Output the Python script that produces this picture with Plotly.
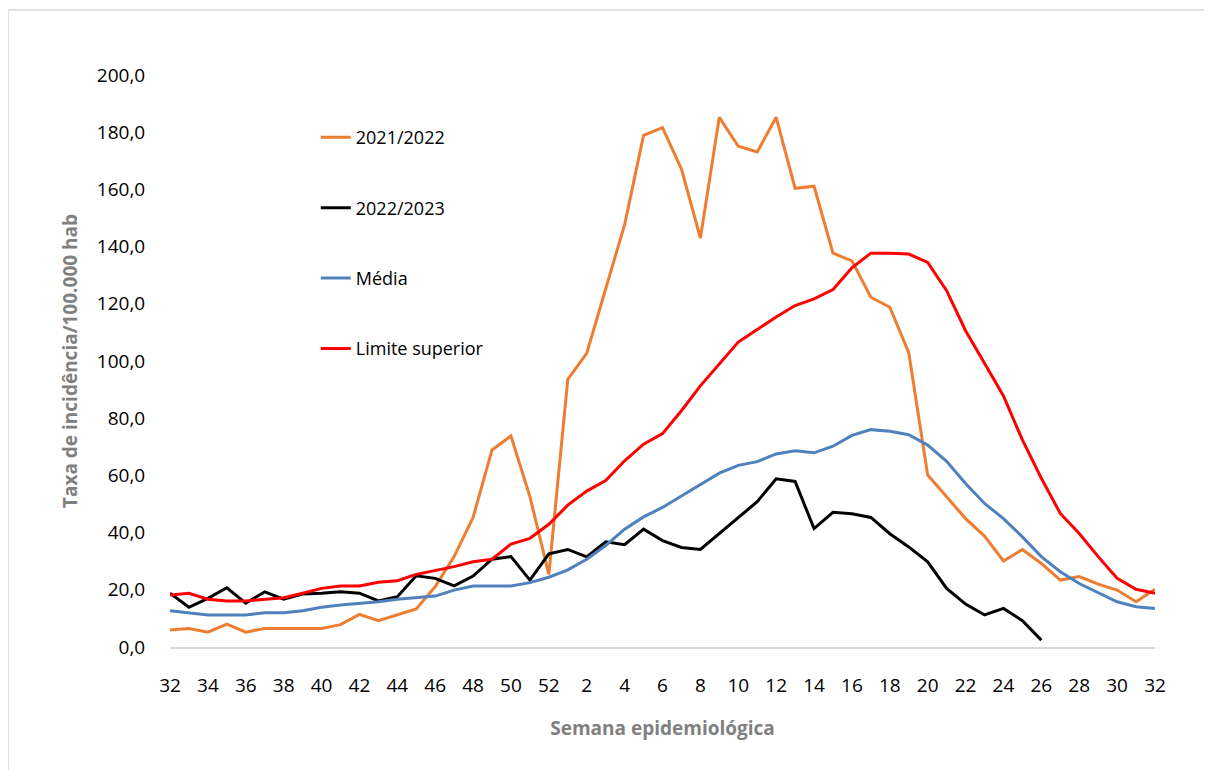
import plotly.graph_objects as go

weeks = list(range(32, 53)) + list(range(1, 33))

s2021_2022 = [5.9, 6.5, 5.2, 8.0, 5.2, 6.5, 6.5, 6.5, 6.5, 7.8, 11.4, 9.2, 11.2, 13.3, 21.1,
              31.6, 45.3, 68.9, 73.8, 52.6, 25.4, 93.6, 102.7, 125.0, 147.7, 178.9, 181.6,
              167.1, 143.0, 185.2, 175.1, 173.1, 185.2, 160.4, 161.1, 137.7, 135.0, 122.3,
              118.8, 102.9, 60.1, 52.5, 44.9, 38.8, 30.1, 34.1, 29.2, 23.4, 24.6, 22.0,
              19.9, 15.8, 20.2]

s2022_2023 = [18.8, 13.9, 17.0, 20.7, 15.3, 19.3, 16.7, 18.5, 18.8, 19.3, 18.8, 16.1, 17.6,
              24.9, 24.0, 21.4, 24.8, 30.7, 31.6, 23.4, 32.6, 34.1, 31.5, 36.8, 35.8, 41.2,
              37.2, 34.8, 34.1, 39.7, 45.5, 50.8, 58.8, 57.9, 41.4, 47.1, 46.6, 45.3, 39.6,
              35.0, 29.8, 20.5, 15.0, 11.2, 13.5, 9.2, 2.4,
              None, None, None, None, None, None]

media = [12.7, 12.0, 11.2, 11.2, 11.2, 12.0, 12.0, 12.7, 13.9, 14.7, 15.3, 15.8, 16.7, 17.2,
         17.8, 19.9, 21.3, 21.3, 21.3, 22.5, 24.4, 27.0, 30.7, 35.5, 41.2, 45.5, 48.8, 52.8,
         56.8, 60.8, 63.5, 64.8, 67.5, 68.6, 67.9, 70.2, 74.0, 76.0, 75.4, 74.2, 70.6, 64.9,
         57.2, 50.2, 44.9, 38.5, 31.6, 26.3, 22.2, 19.0, 15.8, 14.1, 13.5]

limite_superior = [18.2, 18.8, 16.7, 16.1, 16.1, 16.7, 17.2, 18.8, 20.5, 21.3, 21.3, 22.6,
                   23.2, 25.4, 26.7, 28.1, 29.8, 30.7, 36.0, 38.0, 42.9, 49.6, 54.5, 58.2,
                   65.1, 70.9, 74.6, 82.6, 91.3, 98.9, 106.6, 111.0, 115.4, 119.4, 121.7,
                   125.0, 132.6, 137.7, 137.7, 137.4, 134.5, 124.6, 110.6, 99.2, 87.8, 72.4,
                   59.0, 46.7, 39.7, 31.6, 24.0, 20.2, 18.8]

series_names = ["2021/2022", "2022/2023", "Média", "Limite superior"]
series_colors = ["#ED7D31", "#000000", "#4F81BD", "#FF0000"]
series_values = [s2021_2022, s2022_2023, media, limite_superior]

y_ticks = [0, 20, 40, 60, 80, 100, 120, 140, 160, 180, 200]
y_ticktext = [f"{v:.1f}".replace(".", ",") for v in y_ticks]

x_idx = list(range(len(weeks)))
x_tickvals = x_idx[::2]
x_ticktext = [str(weeks[i]) for i in x_tickvals]

FONT = "Open Sans"
FIG_W, FIG_H = 1204, 762
M_L, M_R, M_T, M_B = 162, 57, 67, 123
PLOT_W = FIG_W - M_L - M_R
PLOT_H = FIG_H - M_T - M_B

fig = go.Figure()
for name, color, vals in zip(series_names, series_colors, series_values):
    fig.add_trace(go.Scatter(
        x=x_idx, y=vals, mode="lines", name=name, legendgroup=name,
        line=dict(color=color, width=3), connectgaps=False,
    ))

frame_left = -M_L / PLOT_W
frame_top = 1 + (M_T - 2) / PLOT_H
frame_right = (FIG_W - M_L) / PLOT_W
frame_bottom = -M_B / PLOT_H

fig.update_layout(
    width=FIG_W, height=FIG_H,
    margin=dict(l=M_L, r=M_R, t=M_T, b=M_B),
    paper_bgcolor="white", plot_bgcolor="white",
    font=dict(family=FONT, size=19, color="#000000"),
    showlegend=True,
    legend=dict(
        x=0.148, y=0.923, xanchor="left", yanchor="top",
        bgcolor="rgba(0,0,0,0)", borderwidth=0,
        font=dict(family=FONT, size=18, color="#000000"),
        tracegroupgap=44, traceorder="grouped",
    ),
    xaxis=dict(
        range=[0, 52], tickmode="array", tickvals=x_tickvals, ticktext=x_ticktext,
        showgrid=False, zeroline=False, showline=True, linecolor="#D9D9D9", linewidth=2,
        ticks="outside", ticklen=20, tickcolor="rgba(0,0,0,0)",
        tickfont=dict(family=FONT, size=19, color="#000000"),
        title=dict(text="<b>Semana epidemiológica</b>", standoff=25,
                   font=dict(family=FONT, size=19, color="#808080")),
    ),
    yaxis=dict(
        range=[0, 200], tickmode="array", tickvals=y_ticks, ticktext=y_ticktext,
        showgrid=False, zeroline=False, showline=False,
        ticks="outside", ticklen=20, tickcolor="rgba(0,0,0,0)",
        tickfont=dict(family=FONT, size=19, color="#000000"),
        title=dict(text="<b>Taxa de incidência/100.000 hab</b>", standoff=14,
                   font=dict(family=FONT, size=19, color="#808080")),
    ),
    shapes=[
        dict(type="line", xref="paper", yref="paper",
             x0=frame_left, x1=frame_right, y0=frame_top, y1=frame_top,
             line=dict(color="#D9D9D9", width=1.5), layer="below"),
        dict(type="line", xref="paper", yref="paper",
             x0=frame_left, x1=frame_left, y0=frame_bottom, y1=frame_top,
             line=dict(color="#D9D9D9", width=1.5), layer="below"),
    ],
)

fig.write_html("out.html")
